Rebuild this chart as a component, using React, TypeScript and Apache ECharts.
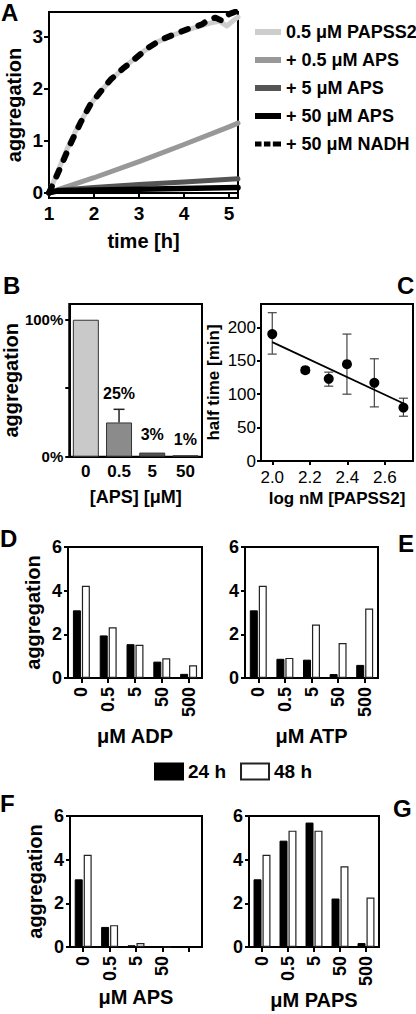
import React, { useEffect, useRef } from "react";
import * as echarts from "echarts";

const FONT = "'Liberation Sans', Arial, Helvetica, sans-serif";

// ---------- Panel A: aggregation vs time ----------
const aLegendNames = ["0.5 μM PAPSS2", "+ 0.5 μM APS", "+ 5 μM APS", "+ 50 μM APS", "+ 50 μM NADH"];
const aXTicks = [1, 2, 3, 4, 5];
const aYTicks = [0, 1, 2, 3];
const papssTime = [1.0, 1.2, 1.4, 1.6, 1.8, 2.0, 2.3, 2.6, 3.0, 3.4, 3.8, 4.2, 4.6, 4.8, 4.95, 5.1, 5.2];
const papssVal = [0, 0.42, 0.84, 1.2, 1.52, 1.8, 2.1, 2.36, 2.66, 2.9, 3.05, 3.17, 3.27, 3.3, 3.21, 3.32, 3.38];
const aps05Time = [1.0, 1.2, 2.0, 3.0, 4.0, 5.0, 5.2];
const aps05Val = [0, 0.06, 0.29, 0.6, 0.93, 1.27, 1.34];
const aps5Time = [1.0, 1.2, 2.0, 3.0, 4.0, 5.2];
const aps5Val = [0, 0.05, 0.1, 0.16, 0.21, 0.27];
const aps50Time = [1.0, 1.2, 3.0, 5.2];
const aps50Val = [0, 0.04, 0.07, 0.1];
const nadhTime = [1.0, 1.25, 1.47, 1.7, 1.92, 2.15, 2.37, 2.67, 2.9, 3.2, 3.5, 3.87, 4.17, 4.4, 4.55, 4.7, 4.85, 5.0, 5.19];
const nadhVal = [0, 0.48, 0.93, 1.35, 1.7, 1.95, 2.18, 2.41, 2.57, 2.79, 2.95, 3.08, 3.18, 3.24, 3.34, 3.37, 3.31, 3.44, 3.5];

// ---------- Panel B: relative aggregation vs APS ----------
const bCats = ["0", "0.5", "5", "50"];
const bPct = [100, 25, 3, 1];
const bErrTop = [null, 34.6, null, null];
const bLabelShow = [false, true, true, true];

// ---------- Panel C: half time vs log PAPSS2 ----------
const cLogConc = [2.0, 2.176, 2.301, 2.398, 2.544, 2.699];
const cHalfTime = [190, 136, 123, 145, 117, 80];
const cErrLow = [160, 132, 112, 100, 81, 67];
const cErrHigh = [222, 140, 133, 190, 153, 94];
const cFitX = [2.0, 2.7];
const cFitY = [178, 86];
const cXTicks = [2.0, 2.2, 2.4, 2.6];
const cYTicks = [0, 50, 100, 150, 200];

// ---------- Panels D-G: aggregation at 24 h / 48 h ----------
const doseCats = ["0", "0.5", "5", "50", "500"];
const apsDoseCats = ["0", "0.5", "5", "50", ""];
const adp24 = [3.1, 1.95, 1.55, 0.75, 0.19];
const adp48 = [4.22, 2.32, 1.52, 0.9, 0.58];
const atp24 = [3.1, 0.88, 0.84, 0.18, 0.6];
const atp48 = [4.22, 0.92, 2.45, 1.6, 3.18];
const aps24 = [3.1, 0.92, 0.08, 0, null];
const aps48 = [4.22, 1.0, 0.18, 0, null];
const paps24 = [3.1, 4.87, 5.7, 2.22, 0.18];
const paps48 = [4.22, 5.33, 5.33, 3.7, 2.27];

const pairs = (xs: number[], ys: number[]) => xs.map((x, i) => [x, ys[i]]);

const bold = (size: number) => ({ fontFamily: FONT, fontWeight: "bold" as const, fontSize: size, color: "#000" });
const regular = (size: number) => ({ fontFamily: FONT, fontWeight: "normal" as const, fontSize: size, color: "#000" });
const axisLine = { show: true, lineStyle: { color: "#000", width: 2 } };
const tick = (len = 5) => ({ show: true, length: len, lineStyle: { color: "#000", width: 2 } });

const DASH_ICON = "path://M0,0h8v6h-8z M11,0h8v6h-8z M22,0h10v6h-10z";

function buildOption() {
  const grids = [
    { left: 49, top: 12, width: 189, height: 186 }, // A
    { left: 49, top: 304, width: 153, height: 152.7 }, // B
    { left: 261, top: 304, width: 152, height: 157 }, // C
    { left: 68, top: 547, width: 134, height: 131 }, // D
    { left: 245, top: 547, width: 133, height: 131 }, // E
    { left: 70, top: 816, width: 132, height: 131 }, // F
    { left: 249, top: 816, width: 130, height: 131 }, // G
  ].map((g) => ({ ...g, show: true, borderColor: "#000", borderWidth: 2, containLabel: false }));

  const barX = (gi: number, cats: string[], name: string, gap: number) => ({
    type: "category",
    gridIndex: gi,
    data: cats,
    axisLine,
    axisTick: { ...tick(5), alignWithLabel: true, interval: 0 },
    axisLabel: { ...bold(18), rotate: 90, margin: 9, interval: 0 },
    name,
    nameLocation: "middle",
    nameGap: gap,
    nameTextStyle: bold(20),
  });
  const barY = (gi: number, withName: boolean) => ({
    type: "value",
    gridIndex: gi,
    min: 0,
    max: 6,
    interval: 2,
    axisLine,
    axisTick: tick(4),
    splitLine: { show: false },
    axisLabel: { ...bold(18), margin: 6 },
    name: withName ? "aggregation" : "",
    nameLocation: "middle",
    nameGap: 25,
    nameTextStyle: bold(20),
  });

  const xAxis: any[] = [
    {
      type: "value",
      gridIndex: 0,
      min: 1,
      max: 5.2,
      axisLine,
      axisTick: { ...tick(5), customValues: aXTicks },
      axisLabel: { ...bold(19), margin: 6, customValues: aXTicks },
      splitLine: { show: false },
      name: "time [h]",
      nameLocation: "middle",
      nameGap: 33,
      nameTextStyle: bold(20),
    },
    {
      type: "category",
      gridIndex: 1,
      data: bCats,
      axisLine,
      axisTick: { show: false },
      axisLabel: { ...bold(17), margin: 6 },
      name: "[APS] [μM]",
      nameLocation: "middle",
      nameGap: 31,
      nameTextStyle: bold(18),
    },
    {
      type: "value",
      gridIndex: 2,
      min: 1.94,
      max: 2.75,
      axisLine,
      axisTick: { ...tick(4), customValues: cXTicks },
      axisLabel: { ...regular(17), margin: 8, customValues: cXTicks, formatter: (v: number) => v.toFixed(1) },
      splitLine: { show: false },
      name: "log nM [PAPSS2]",
      nameLocation: "middle",
      nameGap: 29,
      nameTextStyle: bold(17),
    },
    barX(3, doseCats, "μM ADP", 48),
    barX(4, doseCats, "μM ATP", 48),
    barX(5, apsDoseCats, "μM APS", 40),
    barX(6, doseCats, "μM PAPS", 40),
  ];

  const yAxis: any[] = [
    {
      type: "value",
      gridIndex: 0,
      min: -0.1,
      max: 3.48,
      axisLine,
      axisTick: { ...tick(5), customValues: aYTicks },
      axisLabel: { ...bold(19), margin: 6, customValues: aYTicks },
      splitLine: { show: false },
      name: "aggregation",
      nameLocation: "middle",
      nameGap: 25,
      nameTextStyle: bold(20),
    },
    {
      type: "value",
      gridIndex: 1,
      min: 0,
      max: 111.5,
      axisLine,
      axisTick: { ...tick(4), customValues: [0, 50, 100] },
      axisLabel: { ...bold(15), margin: 6, customValues: [0, 100], formatter: (v: number) => `${v}%` },
      splitLine: { show: false },
      name: "aggregation",
      nameLocation: "middle",
      nameGap: 24,
      nameTextStyle: bold(20),
    },
    {
      type: "value",
      gridIndex: 2,
      min: 0,
      max: 235,
      axisLine,
      axisTick: { ...tick(4), customValues: cYTicks },
      axisLabel: { ...regular(17), margin: 5, customValues: cYTicks },
      splitLine: { show: false },
      name: "half time [min]",
      nameLocation: "middle",
      nameGap: 39,
      nameTextStyle: bold(17),
    },
    barY(3, true),
    barY(4, false),
    barY(5, true),
    barY(6, false),
  ];

  const lineSeries = (name: string, t: number[], v: number[], color: string, width: number, type: any = "solid") => ({
    name,
    type: "line",
    xAxisIndex: 0,
    yAxisIndex: 0,
    data: pairs(t, v),
    symbol: "none",
    showSymbol: false,
    lineStyle: { color, width, type, cap: "round", join: "round" },
    itemStyle: { color },
    z: 3,
  });

  const bColors = ["#c9c9c9", "#8b8b8b", "#555555", "#1c1c1c"];
  const bLabelDist = [0, 21, 10, 8];

  const errorRender = (capHalf: number, color: string, lw: number, lowerToo: boolean) => (params: any, api: any) => {
    const x = api.value(0);
    const lo = api.value(1);
    const hi = api.value(2);
    const pLo = api.coord([x, lo]);
    const pHi = api.coord([x, hi]);
    const st = { stroke: color, lineWidth: lw };
    const children: any[] = [
      { type: "line", shape: { x1: pLo[0], y1: pLo[1], x2: pHi[0], y2: pHi[1] }, style: st },
      { type: "line", shape: { x1: pHi[0] - capHalf, y1: pHi[1], x2: pHi[0] + capHalf, y2: pHi[1] }, style: st },
    ];
    if (lowerToo) {
      children.push({ type: "line", shape: { x1: pLo[0] - capHalf, y1: pLo[1], x2: pLo[0] + capHalf, y2: pLo[1] }, style: st });
    }
    return { type: "group", children };
  };

  const pairBar = (gi: number, v24: (number | null)[], v48: (number | null)[]) => [
    {
      name: "24 h",
      type: "bar",
      xAxisIndex: gi,
      yAxisIndex: gi,
      data: v24,
      barWidth: 8,
      barGap: "12%",
      itemStyle: { color: "#000", borderColor: "#000", borderWidth: 1 },
    },
    {
      name: "48 h",
      type: "bar",
      xAxisIndex: gi,
      yAxisIndex: gi,
      data: v48,
      barWidth: 8,
      barGap: "12%",
      itemStyle: { color: "#fff", borderColor: "#222", borderWidth: 1.2 },
    },
  ];

  const series: any[] = [
    lineSeries(aLegendNames[0], papssTime, papssVal, "#cdcdcd", 5),
    lineSeries(aLegendNames[1], aps05Time, aps05Val, "#989898", 5),
    lineSeries(aLegendNames[2], aps5Time, aps5Val, "#555555", 5),
    lineSeries(aLegendNames[3], aps50Time, aps50Val, "#000000", 5.5),
    lineSeries(aLegendNames[4], nadhTime, nadhVal, "#000000", 6, [7, 11]),
    {
      type: "bar",
      xAxisIndex: 1,
      yAxisIndex: 1,
      barWidth: 26,
      data: bPct.map((v, i) => ({
        value: v,
        itemStyle: { color: bColors[i], borderColor: "#333", borderWidth: 1 },
        label: { show: bLabelShow[i], position: "top", distance: bLabelDist[i], formatter: "{c}%", ...bold(16) },
      })),
    },
    {
      type: "custom",
      xAxisIndex: 1,
      yAxisIndex: 1,
      renderItem: errorRender(5.5, "#222", 1.5, false),
      encode: { x: 0, y: [1, 2] },
      data: bCats
        .map((c, i) => (bErrTop[i] == null ? null : [i, bPct[i], bErrTop[i]]))
        .filter((d) => d !== null),
      z: 4,
    },
    {
      type: "custom",
      xAxisIndex: 2,
      yAxisIndex: 2,
      renderItem: errorRender(4.5, "#444", 1.2, true),
      encode: { x: 0, y: [1, 2] },
      data: cLogConc.map((x, i) => [x, cErrLow[i], cErrHigh[i]]),
      z: 1,
    },
    {
      type: "line",
      xAxisIndex: 2,
      yAxisIndex: 2,
      data: pairs(cFitX, cFitY),
      symbol: "none",
      lineStyle: { color: "#000", width: 1.8 },
      z: 2,
    },
    {
      type: "scatter",
      xAxisIndex: 2,
      yAxisIndex: 2,
      data: pairs(cLogConc, cHalfTime),
      symbol: "circle",
      symbolSize: 10,
      itemStyle: { color: "#000", opacity: 1 },
      z: 3,
    },
    ...pairBar(3, adp24, adp48),
    ...pairBar(4, atp24, atp48),
    ...pairBar(5, aps24, aps48),
    ...pairBar(6, paps24, paps48),
  ];

  const letter = (text: string, left: number, top: number) => ({
    type: "text",
    left,
    top,
    style: { text, font: `bold 24px ${FONT}`, fill: "#000" },
  });

  return {
    animation: false,
    backgroundColor: "#fff",
    grid: grids,
    xAxis,
    yAxis,
    series,
    legend: [
      {
        data: aLegendNames.map((name, i) => ({ name, icon: i === 4 ? DASH_ICON : "rect" })),
        orient: "vertical",
        left: 250,
        top: 18,
        itemWidth: 26,
        itemHeight: 6,
        itemGap: 10,
        textStyle: { ...bold(18), lineHeight: 17.5 },
        selectedMode: false,
      },
      {
        data: ["24 h", "48 h"],
        orient: "horizontal",
        left: 149,
        top: 757,
        itemWidth: 28,
        itemHeight: 16,
        itemGap: 14,
        icon: "rect",
        textStyle: bold(19),
        selectedMode: false,
      },
    ],
    graphic: [
      letter("A", 1, 0),
      letter("B", 3, 273),
      letter("C", 397, 273),
      letter("D", 0, 526),
      letter("E", 398, 531),
      letter("F", 0, 791),
      letter("G", 393, 796),
    ],
  };
}

export default function App() {
  const ref = useRef<HTMLDivElement>(null);
  useEffect(() => {
    if (!ref.current) return;
    const chart = echarts.init(ref.current, undefined, { renderer: "svg" });
    chart.setOption(buildOption() as any);
    return () => chart.dispose();
  }, []);
  return (
    <div
      ref={ref}
      style={{ position: "fixed", left: 0, top: 0, width: 416, height: 1014, background: "#fff" }}
    />
  );
}
